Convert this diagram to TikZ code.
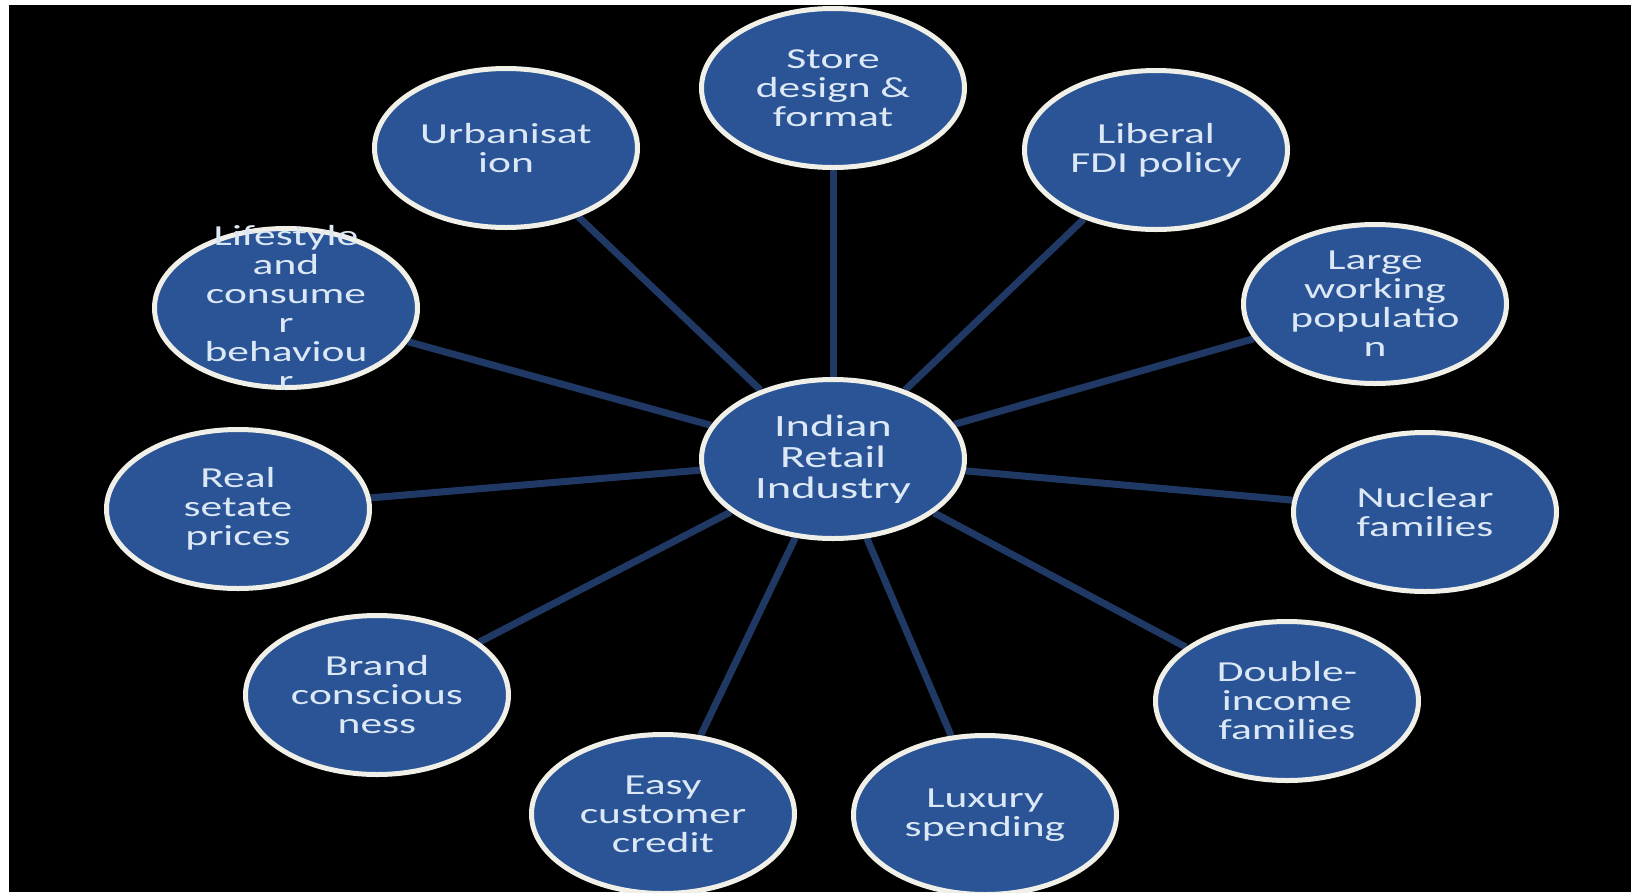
\documentclass[tikz,border=0pt]{standalone}
\usepackage{fontspec}
\newfontfamily\bubblefont[FakeStretch=1.5]{Carlito}
\usetikzlibrary{shapes.geometric,backgrounds}
\definecolor{bubbleblue}{RGB}{42,84,150}
\definecolor{rimwhite}{RGB}{240,240,232}
\definecolor{spokeblue}{RGB}{31,56,100}
\definecolor{labeltext}{RGB}{220,232,246}
\tikzset{
  factor/.style={ellipse,draw=rimwhite,line width=5pt,fill=bubbleblue,
    minimum width=263pt,minimum height=159pt,inner sep=0pt,
    text=labeltext,align=center,font=\bubblefont\fontsize{29}{29}\selectfont},
  factortext/.style={text=labeltext,align=center,inner sep=0pt,
    font=\bubblefont\fontsize{29}{29}\selectfont},
  spoke/.style={draw=spokeblue,line width=7pt}
}

\begin{document}
\begin{tikzpicture}[x=1pt,y=-1pt]
        \useasboundingbox (0,0) rectangle (1631,892);
        % The hub
        \node[factor,font=\bubblefont\fontsize{31}{31}\selectfont] (hub) at (833,459) {Indian\\Retail\\Industry};
        % The factors, clockwise from the top
        \node[factor] (store) at (833,88) {Store\\design \&\\format};
        \node[factor] (liberal) at (1156,150) {Liberal\\FDI policy};
        \node[factor] (large) at (1375,304) {Large\\working\\populatio\\n};
        \node[factor] (nuclear) at (1425,512) {Nuclear\\families};
        \node[factor] (double) at (1287,701) {Double-\\income\\families};
        \node[factor] (luxury) at (985,815) {Luxury\\spending};
        \node[factor] (easy) at (663,814) {Easy\\customer\\credit};
        \node[factor] (brand) at (377,695) {Brand\\conscious\\ness};
        \node[factor] (real) at (238,509) {Real\\setate\\prices};
        \node[factor] (life) at (286,308) {};
        \node[factortext] (lifetext) at (life) {Lifestyle\\and\\consume\\r\\behaviou\\r};
        \node[factor] (urban) at (506,148) {Urbanisat\\ion};
        % Backdrop and spokes
        \begin{scope}[on background layer]
          \fill[white] (0,0) rectangle (1631,892);
          \fill[black] (9,5) rectangle (1631,892);
          \foreach \f in {store,liberal,large,nuclear,double,luxury,easy,brand,real,life,urban}
            \draw[spoke] (hub) -- (\f);
        \end{scope}
\end{tikzpicture}
\end{document}
